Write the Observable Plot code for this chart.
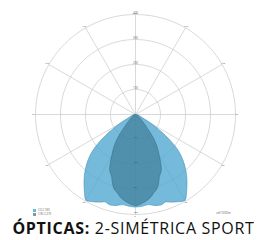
<!DOCTYPE html>
<html>
<head>
<meta charset="utf-8">
<script src="https://cdn.jsdelivr.net/npm/d3@7"></script>
<script src="https://cdn.jsdelivr.net/npm/@observablehq/plot@0.6"></script>
<style>
  body { margin: 0; background: #fff; width: 267px; height: 240px; overflow: hidden; }
  #wrap { position: relative; width: 267px; height: 220px; }
  .leg { position: absolute; font: 3px/3px "Open Sans", sans-serif; color: #666; display: flex; align-items: center; }
  .sw { width: 3px; height: 3px; margin-right: 2px; }
  #title { font-family: "Open Sans", sans-serif; font-size: 16px; color: #111; text-align: center; white-space: nowrap; line-height: 16px; height: 16px; margin-top: 0; letter-spacing: 0.7px; }
  #title b { font-weight: 700; }
</style>
</head>
<body>
<div id="wrap">
  <div id="chart"></div>
  <div class="leg" style="left:33px; top:208.5px;"><div class="sw" style="background:#6fb6d8"></div>C0-C180</div>
  <div class="leg" style="left:33px; top:212.5px;"><div class="sw" style="background:#7f9aa6"></div>C90-C270</div>
  <div class="leg" style="left:216px; top:212px;">cd/1000lm</div>
</div>
<div id="title"><b>ÓPTICAS:</b> 2-SIMÉTRICA SPORT</div>
<script>
// Ring values (cd/1000lm)
const rings = [100, 200, 300, 400];
const spokes = [0, 30, 60, 90, 120, 150, 180, 210, 240, 270, 300, 330];
const angleLabels = ["0°", "30°", "60°", "90°", "120°", "150°", "180°", "150°", "120°", "90°", "60°", "30°"];

// C0-C180 plane (light)
const c0Angles = [0, 4, 8, 12, 16, 19, 22, 26, 30, 33, 36, 40, 45, 50, 55, 60, 65, 70, 80, 90];
const c0Values = [370, 368, 364, 372, 376, 370, 378, 388, 396, 374, 350, 318, 274, 222, 146, 74, 32, 20, 8, 0];

// C90-C270 plane (dark)
const c90Angles = [0, 5, 10, 13, 16, 19, 21, 23, 25, 28, 30, 33, 37, 42, 50, 60, 90];
const c90Values = [364, 354, 338, 322, 310, 286, 266, 256, 244, 212, 190, 162, 122, 62, 24, 8, 0];

const rad = Math.PI / 180;
function curve(angles, values) {
  const pts = angles.map((a, i) => ({a, r: values[i]}));
  const left = pts.slice().reverse().map(p => ({a: -p.a, r: p.r}));
  return left.concat(pts.slice(1));
}
const px = d => d.r * Math.sin(d.a * rad);
const py = d => -d.r * Math.cos(d.a * rad);

const c0 = curve(c0Angles, c0Values);
const c90 = curve(c90Angles, c90Values);

const circlePts = rings.flatMap(r => d3.range(0, 361, 3).map(a => ({ring: r, a, r})));
const R = rings[rings.length - 1];

const plot = Plot.plot({
  width: 267,
  height: 220,
  marginLeft: 35,
  marginRight: 32,
  marginTop: 14,
  marginBottom: 6,
  x: {domain: [-R, R], axis: null},
  y: {domain: [-R, R], axis: null},
  style: {background: "transparent", display: "block"},
  marks: [
    Plot.line(circlePts, {x: px, y: py, z: "ring", stroke: "#c8c8c8", strokeWidth: 0.7}),
    Plot.link(spokes, {x1: 0, y1: 0, x2: a => R * Math.sin(a * rad), y2: a => -R * Math.cos(a * rad), stroke: "#c8c8c8", strokeWidth: 0.7}),
    Plot.line(c0, {x: px, y: py, fill: "#4ea6d0", fillOpacity: 0.78, stroke: "#3f8db5", strokeWidth: 0.6, curve: "catmull-rom-closed"}),
    Plot.line(c90, {x: px, y: py, fill: "#2d6680", fillOpacity: 0.5, stroke: "#35708a", strokeWidth: 0.6, curve: "catmull-rom-closed"}),
    Plot.text(rings, {x: 0, y: r => r, text: r => String(r), fontSize: 3, fill: "#777", dy: -1.5}),
    Plot.text(rings, {x: 0, y: r => -r, text: r => String(r), fontSize: 2.5, fill: "#555", dy: -2}),
    Plot.text(spokes, {x: a => (R + 7) * Math.sin(a * rad), y: a => -(R + 7) * Math.cos(a * rad), text: (a, i) => angleLabels[i], fontSize: 2.5, fill: "#777"})
  ]
});
document.getElementById("chart").appendChild(plot);
</script>
</body>
</html>
